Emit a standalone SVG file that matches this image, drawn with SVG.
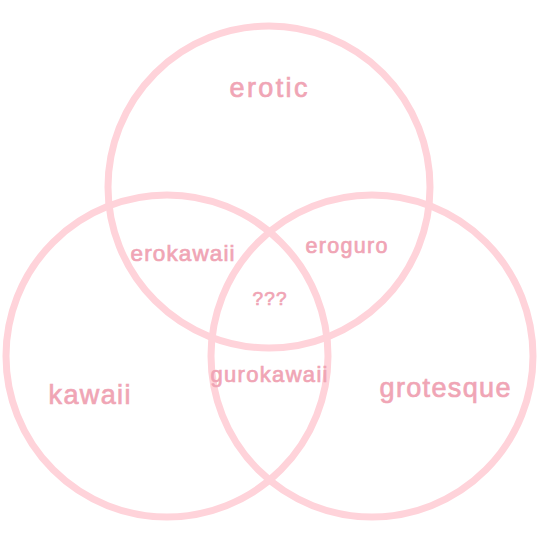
<svg xmlns="http://www.w3.org/2000/svg" width="540" height="540" viewBox="0 0 540 540">
<style>
.c{fill:none;stroke:#ffd3da;stroke-width:7}
.t{fill:#f0a5b5;stroke:#f0a5b5;stroke-width:0.7;font-family:"Liberation Sans",Arial,sans-serif;text-anchor:middle}
</style>
<rect width="540" height="540" fill="#fff"/>
<g id="connectors"></g>
<g id="erotic-circle"><circle class="c" cx="269" cy="187" r="161"/></g>
<g id="kawaii-circle"><circle class="c" cx="167" cy="356" r="161"/></g>
<g id="grotesque-circle"><circle class="c" cx="372" cy="356" r="161"/></g>
<g id="erotic"><text class="t" x="268.5" y="97" font-size="27" textLength="78" lengthAdjust="spacing">erotic</text></g>
<g id="erokawaii"><text class="t" x="182.5" y="261" font-size="22.5" textLength="104" lengthAdjust="spacing">erokawaii</text></g>
<g id="eroguro"><text class="t" x="346.5" y="253" font-size="21.5" textLength="82" lengthAdjust="spacing">eroguro</text></g>
<g id="center"><text class="t" x="269.5" y="305" font-size="19" textLength="34" lengthAdjust="spacing">???</text></g>
<g id="kawaii"><text class="t" x="89.5" y="404" font-size="27" textLength="82" lengthAdjust="spacing">kawaii</text></g>
<g id="gurokawaii"><text class="t" x="269" y="382" font-size="22" textLength="117" lengthAdjust="spacing">gurokawaii</text></g>
<g id="grotesque"><text class="t" x="445" y="397" font-size="27" textLength="131" lengthAdjust="spacing">grotesque</text></g>
</svg>
